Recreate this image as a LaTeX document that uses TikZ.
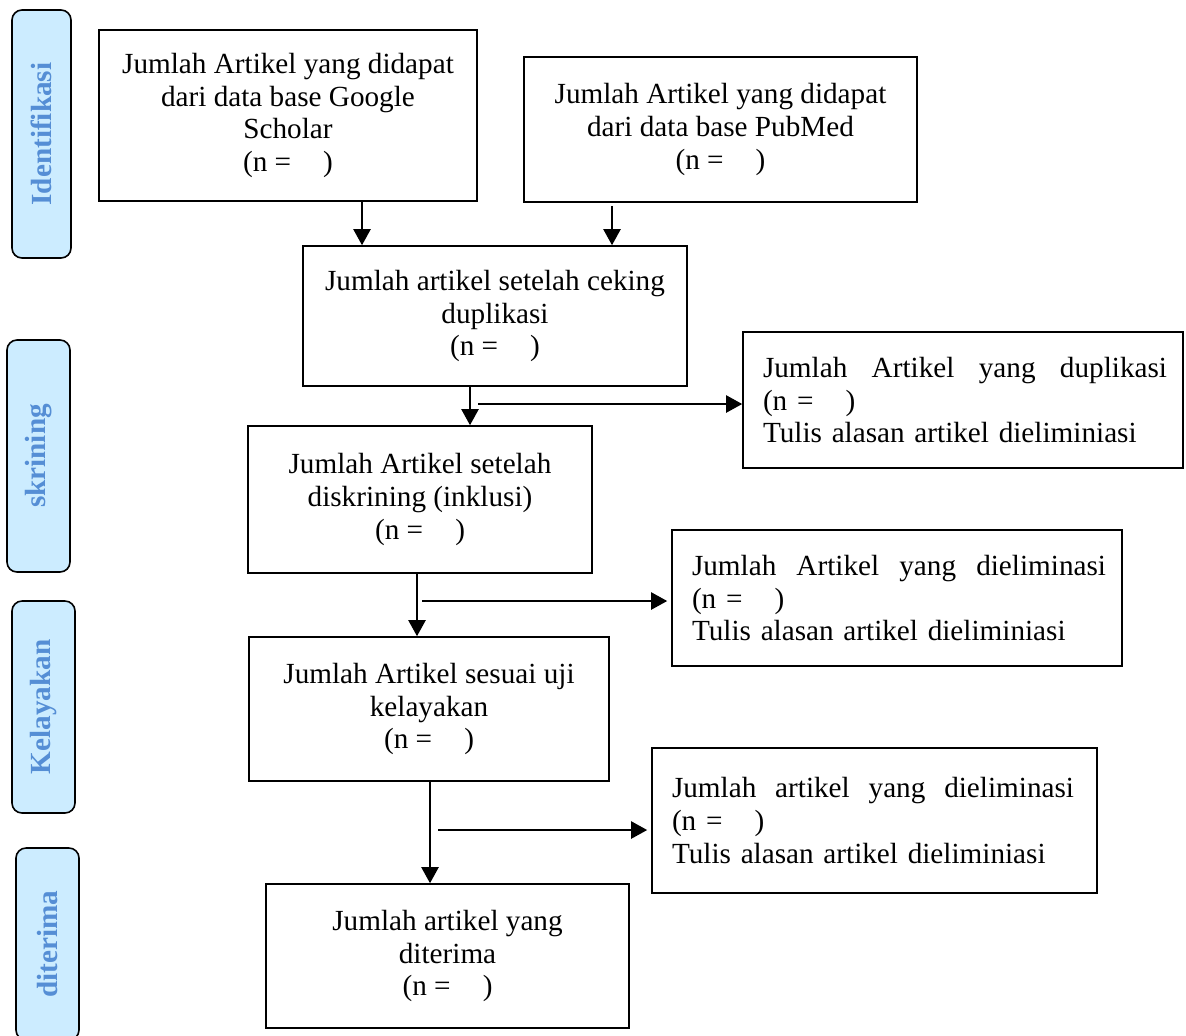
\documentclass[tikz,border=0pt]{standalone}
\usepackage{fontspec}
\setmainfont{Liberation Serif}
\usepackage{xcolor}
\usepackage{tikz}
\usetikzlibrary{shapes,arrows,positioning,calc,arrows.meta}
\definecolor{stagefill}{HTML}{CCECFF}
\definecolor{stagetext}{HTML}{558ED5}
\newcommand{\nval}{(n =\hspace{1.1em})}
\newcommand{\spread}[5]{\hbox to #1{#2\hfill #3\hfill #4\hfill #5}}

\begin{document}
\begin{tikzpicture}[x=0.5pt, y=-0.5pt,
    font=\fontsize{14.6pt}{16.3pt}\selectfont,
    box/.style={draw, rectangle, line width=0.8pt, align=center, inner sep=0pt},
    notebox/.style={draw, rectangle, line width=0.8pt, align=left, inner xsep=10pt, inner ysep=0pt},
    stage/.style={draw, rounded corners=5pt, fill=stagefill, text=stagetext, line width=0.8pt, rotate=90, inner sep=0pt, font=\fontsize{14.6pt}{16pt}\selectfont\bfseries},
    arr/.style={-{Triangle[length=8pt,width=8.5pt]}, line width=1.1pt}]
    \useasboundingbox (0,0) rectangle (1186,1035);

    % Stage labels
    \node [stage, minimum width=124pt, minimum height=29.5pt] (idf) at (41.5,134) {Identifikasi};
    \node [stage, minimum width=116pt, minimum height=31.5pt] (skrlab) at (38.5,456) {skrining};
    \node [stage, minimum width=106pt, minimum height=31.5pt] (kellab) at (43.5,707) {Kelayakan};
    \node [stage, minimum width=96pt, minimum height=31.5pt] (terlab) at (47.5,944) {diterima};

    % Main flow
    \node [box, minimum width=189pt, minimum height=85.5pt] (gs) at (288,115.5) {Jumlah Artikel yang didapat\\dari data base Google\\Scholar\\\nval};
    \node [box, minimum width=196.5pt, minimum height=72.5pt] (pm) at (720.5,129.5) {Jumlah Artikel yang didapat\\dari data base PubMed\\\nval};
    \node [box, minimum width=192pt, minimum height=70pt] (dup) at (495,316) {Jumlah artikel setelah ceking\\duplikasi\\\nval};
    \node [box, minimum width=172pt, minimum height=73.5pt] (skr) at (420,499.5) {Jumlah Artikel setelah\\diskrining (inklusi)\\\nval};
    \node [box, minimum width=180pt, minimum height=72pt] (kel) at (429,709) {Jumlah Artikel sesuai uji\\kelayakan\\\nval};
    \node [box, minimum width=181.5pt, minimum height=72pt] (acc) at (447.5,956) {Jumlah artikel yang\\diterima\\\nval};

    % Excluded articles
    \node [notebox, text width=200pt, minimum width=220pt, minimum height=68pt] (dupx) at (963,400) {\spread{202pt}{Jumlah}{Artikel}{yang}{duplikasi}\\\nval\\Tulis alasan artikel dieliminiasi};
    \node [notebox, text width=205pt, minimum width=225pt, minimum height=68pt] (elim1) at (897,598) {\spread{207pt}{Jumlah}{Artikel}{yang}{dieliminasi}\\\nval\\Tulis alasan artikel dieliminiasi};
    \node [notebox, text width=202.5pt, minimum width=222.5pt, minimum height=72.5pt] (elim2) at (874.5,820.5) {\spread{201pt}{Jumlah}{artikel}{yang}{dieliminasi}\\\nval\\Tulis alasan artikel dieliminiasi};

    % Junctions
    \coordinate (x1) at (362,0);
    \coordinate (x2) at (612,0);
    \coordinate (j1) at (470,404);
    \coordinate (j2) at (417,601);
    \coordinate (j3) at (430,830);

    % Arrows
    \draw [arr] (gs.south -| x1) -- (dup.north -| x1);
    \draw [arr] ([yshift=-1.5pt]pm.south -| x2) -- (dup.north -| x2);
    \draw [arr] (dup.south -| j1) -- (skr.north -| j1);
    \draw [arr] ([xshift=4pt]j1) -- (j1 -| dupx.west);
    \draw [arr] (skr.south -| j2) -- (kel.north -| j2);
    \draw [arr, shorten >=2pt] ([xshift=2.5pt]j2) -- (j2 -| elim1.west);
    \draw [arr] (kel.south -| j3) -- (acc.north -| j3);
    \draw [arr, shorten >=2pt] ([xshift=4pt]j3) -- (j3 -| elim2.west);

\end{tikzpicture}
\end{document}
